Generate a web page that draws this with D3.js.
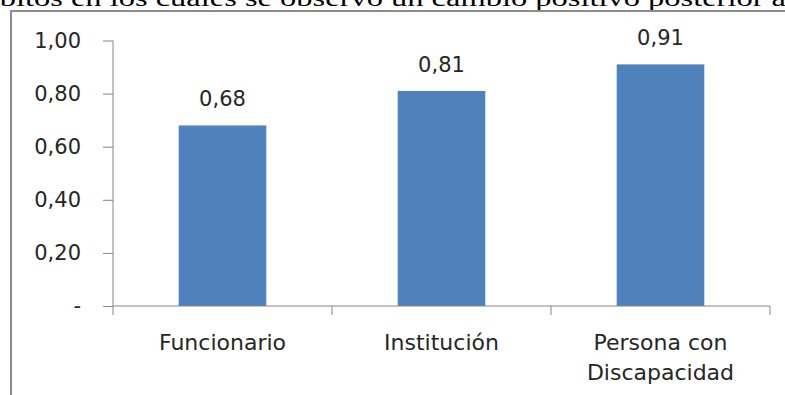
<!DOCTYPE html>
<html>
<head>
<meta charset="utf-8">
<script src="https://cdn.jsdelivr.net/npm/d3@7"></script>
<style>
  body { margin: 0; background: #fff; }
  svg { display: block; }
</style>
</head>
<body>
<div id="chart"></div>
<script>
var width = 785
var height = 395

// data
var categories = ["Funcionario", "Institución", "Persona con\nDiscapacidad"]
var values = [0.68, 0.81, 0.91]
var yTicks = [0, 0.2, 0.4, 0.6, 0.8, 1.0]

var fmt = function(v){ return v === 0 ? "-" : d3.format(".2f")(v).replace(".", ",") }

var svg = d3.select("#chart").append("svg")
  .attr("width", width)
  .attr("height", height)

// sentence of the document above the chart (cut off like in the page)
svg.append("text")
  .attr("x", -40)
  .attr("y", 6)
  .attr("textLength", 826)
  .attr("lengthAdjust", "spacingAndGlyphs")
  .style("font-family", "Liberation Serif")
  .style("font-size", "24px")
  .style("fill", "#000")
  .text("ámbitos en los cuales se observó un cambio positivo posterior a")

// chart frame
svg.append("path")
  .attr("d", "M11,400 V11 H790")
  .attr("fill", "none")
  .attr("stroke", "#8c8c8c")
  .attr("stroke-width", 2)

var x = d3.scaleBand()
  .domain(categories)
  .range([113, 770])
  .paddingInner(0.6)
  .paddingOuter(0.3)

var y = d3.scaleLinear()
  .domain([0, 1])
  .range([306, 40.5])

var font = "DejaVu Sans"
var textColor = "#262626"
var axisColor = "#868686"

// y axis
var yAxis = svg.append("g")
  .attr("transform", "translate(113,0)")
  .call(d3.axisLeft(y).tickValues(yTicks).tickFormat(fmt).tickSize(10).tickPadding(22))
yAxis.select(".domain").attr("stroke", axisColor).attr("d", "M0," + y(1) + "V" + y(0))
yAxis.selectAll(".tick line").attr("stroke", axisColor)
yAxis.selectAll(".tick text")
  .style("font-family", font)
  .style("font-size", "21px")
  .style("fill", textColor)

// bars
svg.selectAll("rect.bar")
  .data(values)
  .enter()
  .append("rect")
  .attr("class", "bar")
  .attr("x", function(d, i){ return x(categories[i]) })
  .attr("y", function(d){ return y(d) })
  .attr("width", x.bandwidth())
  .attr("height", function(d){ return y(0) - y(d) })
  .style("fill", "#4f81bd")

// x axis (category boundaries as ticks)
var bounds = d3.range(categories.length + 1).map(function(i){ return 113 + i * (770 - 113) / categories.length })
svg.append("line")
  .attr("x1", 113).attr("x2", 770)
  .attr("y1", y(0)).attr("y2", y(0))
  .attr("stroke", axisColor)
svg.selectAll("line.xtick")
  .data(bounds)
  .enter()
  .append("line")
  .attr("class", "xtick")
  .attr("x1", function(d){ return d }).attr("x2", function(d){ return d })
  .attr("y1", y(0)).attr("y2", y(0) + 9)
  .attr("stroke", axisColor)

// category labels
svg.selectAll("text.cat")
  .data(categories)
  .enter()
  .append("text")
  .attr("class", "cat")
  .attr("text-anchor", "middle")
  .style("font-family", font)
  .style("font-size", "22px")
  .style("fill", textColor)
  .each(function(d){
    var t = d3.select(this)
    var lines = d.split("\n")
    lines.forEach(function(l, j){
      t.append("tspan")
        .attr("x", x(d) + x.bandwidth() / 2)
        .attr("y", 350 + j * 30)
        .text(l)
    })
  })

// value labels
svg.selectAll("text.val")
  .data(values)
  .enter()
  .append("text")
  .attr("class", "val")
  .attr("text-anchor", "middle")
  .attr("x", function(d, i){ return x(categories[i]) + x.bandwidth() / 2 })
  .attr("y", function(d){ return y(d) - 19 })
  .style("font-family", font)
  .style("font-size", "21px")
  .style("fill", textColor)
  .text(fmt)
</script>
</body>
</html>
